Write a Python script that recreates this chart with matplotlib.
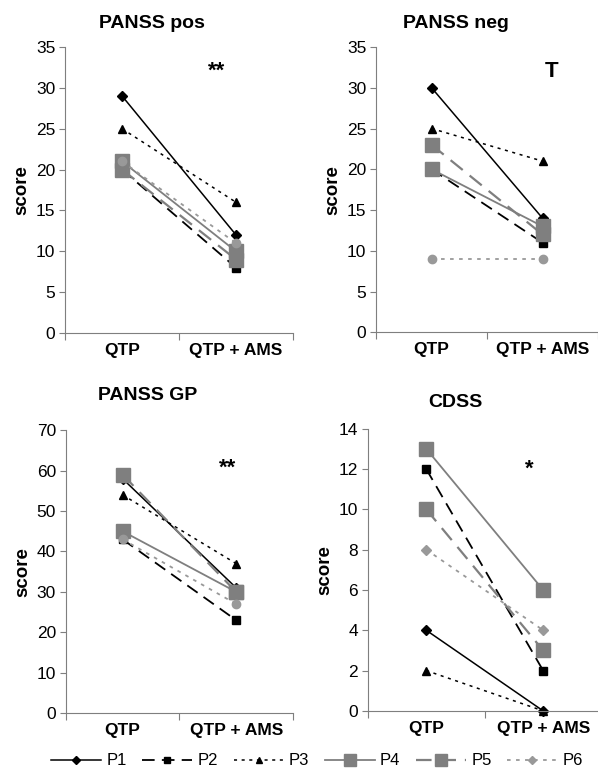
import matplotlib.pyplot as plt

plt.rcParams['font.family'] = ['Liberation Sans', 'DejaVu Sans']

# Scores per patient: before (QTP) and after (QTP + AMS)
conditions = ["QTP", "QTP + AMS"]
patients = ["P1", "P2", "P3", "P4", "P5", "P6"]

panss_pos = [[29, 12], [20, 8], [25, 16], [21, 10], [20, 9], [21, 11]]
panss_neg = [[30, 14], [20, 11], [25, 21], [20, 13], [23, 12], [9, 9]]
panss_gp = [[58, 31], [43, 23], [54, 37], [45, 30], [59, 30], [43, 27]]
cdss = [[4, 0], [12, 2], [2, 0], [13, 6], [10, 3], [8, 4]]

titles = ["PANSS pos", "PANSS neg", "PANSS GP", "CDSS"]
y_max = [35, 35, 70, 14]
y_step = [5, 5, 10, 2]
signif = ["**", "T", "**", "*"]
signif_y = [32, 32, 60.5, 12]
signif_x = [1.33, 1.58, 1.42, 1.38]

GRAY = "#7f7f7f"
# estilo de cada paciente: cor, linha, marcador, tamanho
estilos = [
    dict(color="black", linestyle="-", marker="D", markersize=5, lw=1.1),
    dict(color="black", linestyle=(0, (7, 4)), marker="s", markersize=6, lw=1.3),
    dict(color="black", linestyle=(0, (2, 3)), marker="^", markersize=6, lw=1.1),
    dict(color=GRAY, linestyle="-", marker="s", markersize=10, lw=1.3),
    dict(color=GRAY, linestyle=(0, (7, 4)), marker="s", markersize=10, lw=1.6),
    dict(color="#999999", linestyle=(0, (2, 3)), marker="o", markersize=6, lw=1.3),
]

posicoes = [
    [0.109, 0.568, 0.381, 0.371],
    [0.629, 0.569, 0.371, 0.370],
    [0.110, 0.075, 0.380, 0.367],
    [0.615, 0.078, 0.391, 0.366],
]
# posição do título em fração do eixo
titulo_xy = [(0.38, 1.084), (0.36, 1.084), (0.36, 1.124), (0.376, 1.092)]

fig = plt.figure(figsize=(5.98, 7.71), dpi=100)

dados = [panss_pos, panss_neg, panss_gp, cdss]
for i, serie in enumerate(dados):
    ax = fig.add_axes(posicoes[i])
    for j, valores in enumerate(serie):
        st = dict(estilos[j])
        if j == 5 and i == 3:
            st["marker"] = "D"
            st["markersize"] = 5
        ax.plot([0.5, 1.5], valores, label=patients[j],
                markeredgecolor=st["color"], markerfacecolor=st["color"],
                clip_on=False, **st)
    ax.set_xlim(0, 2)
    ax.set_ylim(0, y_max[i])
    ax.set_yticks(range(0, y_max[i] + 1, y_step[i]))
    ax.set_xticks([0, 1, 2])
    ax.set_xticklabels([])
    ax.set_xticks([0.5, 1.5], minor=True)
    ax.set_xticklabels(conditions, minor=True, fontweight="bold", fontsize=12.5)
    ax.tick_params(axis="x", which="minor", length=0, pad=7)
    ax.tick_params(axis="x", which="major", length=5, color=GRAY, direction="out")
    ax.tick_params(axis="y", length=4, color=GRAY, labelsize=12.5, pad=3)
    for s in ["top", "right"]:
        ax.spines[s].set_visible(False)
    for s in ["left", "bottom"]:
        ax.spines[s].set_color(GRAY)
    ax.set_ylabel("score", fontweight="bold", fontsize=13.5, labelpad=4)
    ax.text(titulo_xy[i][0], titulo_xy[i][1], titles[i], transform=ax.transAxes,
            ha="center", va="center", fontweight="bold", fontsize=14)
    ax.text(signif_x[i], signif_y[i], signif[i], ha="center", va="center",
            fontweight="bold", fontsize=16)

handles, labels = ax.get_legend_handles_labels()
fig.legend(handles, labels, loc="lower center", bbox_to_anchor=(0.53, -0.016), ncol=6,
           frameon=False, fontsize=12, handlelength=3.0, handletextpad=0.3,
           columnspacing=0.95, markerscale=0.8)

fig.savefig("out.png", dpi=100)
